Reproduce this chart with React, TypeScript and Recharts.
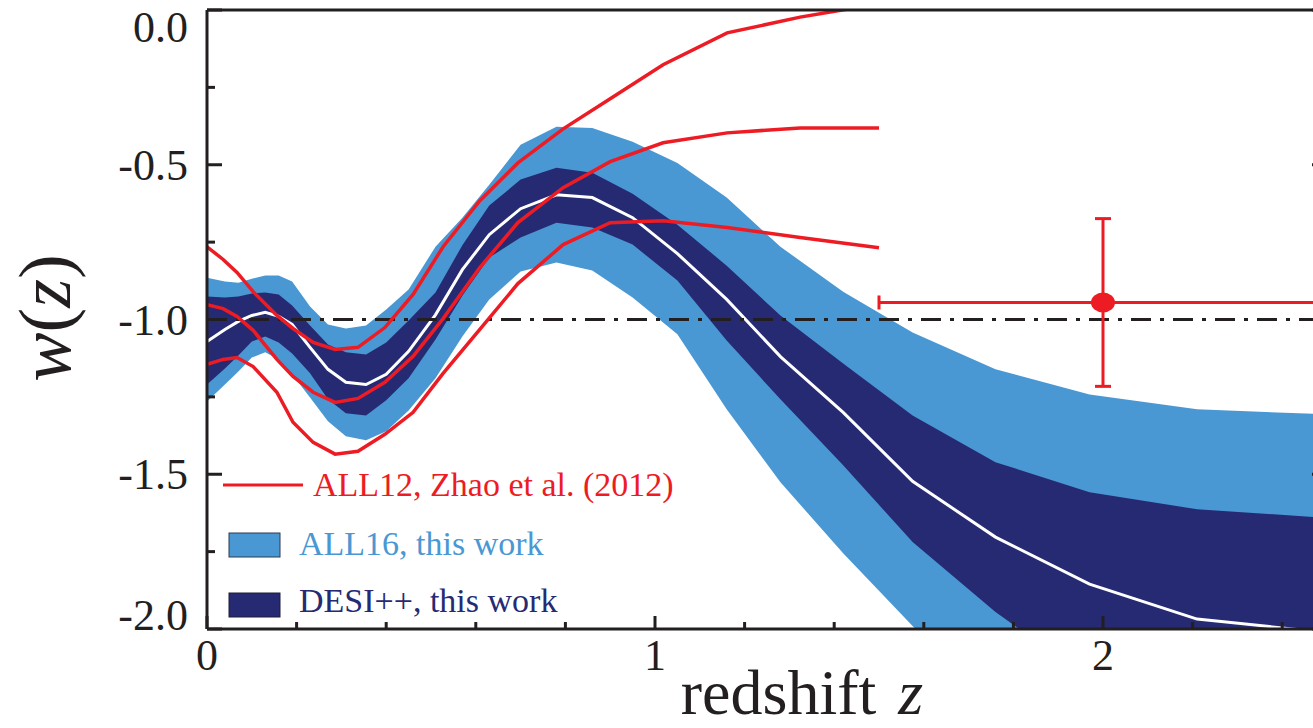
import {
  ComposedChart,
  Area,
  Line,
  Scatter,
  ErrorBar,
  XAxis,
  YAxis,
  ReferenceLine,
  Legend,
} from "recharts";

// redshift nodes shared by the ALL16 / DESI++ reconstructions
const Z_NODES = [
  0, 0.04, 0.07, 0.1, 0.13, 0.16, 0.19, 0.23, 0.27, 0.31, 0.355, 0.4, 0.45, 0.51, 0.57,
  0.63, 0.7, 0.78, 0.86, 0.95, 1.05, 1.16, 1.28, 1.42, 1.575, 1.76, 1.97, 2.21, 2.49,
];
const ALL16_HIGH = [
  -0.865, -0.877, -0.881, -0.868, -0.858, -0.858, -0.877, -0.958, -1.016, -1.029, -1.019,
  -0.968, -0.903, -0.765, -0.671, -0.565, -0.435, -0.377, -0.381, -0.426, -0.494, -0.606,
  -0.765, -0.91, -1.042, -1.161, -1.242, -1.29, -1.306,
];
const ALL16_LOW = [
  -1.265, -1.21, -1.168, -1.123, -1.106, -1.129, -1.177, -1.252, -1.329, -1.377, -1.39,
  -1.361, -1.294, -1.19, -1.055, -0.935, -0.845, -0.816, -0.842, -0.929, -1.048, -1.29,
  -1.526, -1.755, -1.99, -2.26, -2.52, -2.8, -3.0,
];
const DESI_HIGH = [
  -0.926, -0.929, -0.926, -0.916, -0.913, -0.919, -0.955, -1.019, -1.081, -1.106, -1.113,
  -1.074, -1.003, -0.913, -0.76, -0.632, -0.548, -0.51, -0.526, -0.594, -0.694, -0.826,
  -0.987, -1.142, -1.31, -1.461, -1.558, -1.613, -1.64,
];
const DESI_LOW = [
  -1.21, -1.158, -1.116, -1.071, -1.055, -1.074, -1.11, -1.174, -1.258, -1.303, -1.31,
  -1.261, -1.19, -1.065, -0.923, -0.8, -0.735, -0.687, -0.703, -0.758, -0.874, -1.068,
  -1.258, -1.471, -1.719, -1.945, -2.16, -2.35, -2.5,
];
const DESI_MEAN = [
  -1.071, -1.032, -1.006, -0.987, -0.977, -0.99, -1.016, -1.09, -1.161, -1.203, -1.21,
  -1.177, -1.103, -0.985, -0.839, -0.726, -0.642, -0.597, -0.606, -0.671, -0.787, -0.935,
  -1.12, -1.3, -1.523, -1.703, -1.855, -1.968, -2.01,
];

// ALL12, Zhao et al. (2012)
const Z_ALL12 = [
  0, 0.036, 0.067, 0.103, 0.156, 0.192, 0.237, 0.286, 0.337, 0.397, 0.46, 0.527, 0.609,
  0.694, 0.795, 0.9, 1.018, 1.161, 1.324, 1.5,
];
const ALL12_UPPER = [
  -0.765, -0.806, -0.848, -0.91, -0.987, -1.029, -1.074, -1.097, -1.09, -1.026, -0.919,
  -0.765, -0.616, -0.494, -0.384, -0.287, -0.177, -0.074, -0.023, 0.02,
];
const ALL12_MEAN = [
  -0.952, -0.965, -0.99, -1.035, -1.129, -1.184, -1.235, -1.268, -1.255, -1.203, -1.119,
  -0.997, -0.832, -0.687, -0.574, -0.49, -0.429, -0.397, -0.381, -0.381,
];
const ALL12_LOWER = [
  -1.145, -1.129, -1.123, -1.152, -1.235, -1.332, -1.397, -1.435, -1.426, -1.371, -1.3,
  -1.174, -1.032, -0.884, -0.758, -0.687, -0.681, -0.703, -0.735, -0.768,
];

// high-z bin point with errors
const BIN_Z = [2.0];
const BIN_W = [-0.945];
const BIN_ZERR = [[0.5, 0.6]];
const BIN_WERR = [0.271];

const X_TICKS = [0, 0.2, 0.4, 0.6, 0.8, 1, 1.2, 1.4, 1.6, 1.8, 2, 2.2, 2.4];
const Y_TICKS = [0, -0.25, -0.5, -0.75, -1, -1.25, -1.5, -1.75, -2];

const INK = "#231f20";
const LIGHT = "#4a98d3";
const NAVY = "#262a73";
const RED = "#ed1c24";
const FONT = "'Liberation Serif', 'Times New Roman', serif";

const bands = Z_NODES.map((z, i) => ({
  z,
  all16: [ALL16_LOW[i], ALL16_HIGH[i]],
  desi: [DESI_LOW[i], DESI_HIGH[i]],
  mean: DESI_MEAN[i],
}));
const toSeries = (ws: number[]) => Z_ALL12.map((z, i) => ({ z, w: ws[i] }));
const binPoint = BIN_Z.map((z, i) => ({ z, w: BIN_W[i], ex: BIN_ZERR[i], ey: BIN_WERR[i] }));

const isMajorX = (v: number) => Math.abs(v - Math.round(v)) < 1e-6;
const isMajorY = (v: number) => Math.abs(v * 2 - Math.round(v * 2)) < 1e-6;

function BottomTick({ x, y, payload }: any) {
  const v = payload.value;
  const major = isMajorX(v);
  return (
    <g>
      <line x1={x} x2={x} y1={y} y2={y - (major ? 13 : 7)} stroke={INK} strokeWidth={3} />
      {major && (
        <text x={x} y={y + 41} textAnchor="middle" fontSize={44} fontFamily={FONT} fill={INK}>
          {Math.round(v)}
        </text>
      )}
    </g>
  );
}

function TopTick({ x, y, payload }: any) {
  const major = isMajorX(payload.value);
  return <line x1={x} x2={x} y1={y} y2={y + (major ? 13 : 7)} stroke={INK} strokeWidth={3} />;
}

function LeftTick({ x, y, payload }: any) {
  const v = payload.value;
  const major = isMajorY(v);
  let base = y + 15;
  if (v === 0) base = y + 32;
  if (v === -2) base = y + 1;
  return (
    <g>
      <line x1={x} x2={x + (major ? 15 : 8)} y1={y} y2={y} stroke={INK} strokeWidth={3} />
      {major && (
        <text x={x - 19} y={base} textAnchor="end" fontSize={44} fontFamily={FONT} fill={INK}>
          {v === 0 ? "0.0" : v.toFixed(1)}
        </text>
      )}
    </g>
  );
}

function RightTick({ x, y, payload }: any) {
  const major = isMajorY(payload.value);
  return <line x1={x} x2={x - (major ? 15 : 8)} y1={y} y2={y} stroke={INK} strokeWidth={3} />;
}

function LegendBox() {
  return (
    <svg width={480} height={170} style={{ display: "block" }}>
      <line x1={8} x2={88} y1={25} y2={25} stroke={RED} strokeWidth={3} />
      <text x={98} y={36} fontSize={34} fontFamily={FONT} fill={RED}>
        ALL12, Zhao et al. (2012)
      </text>
      <rect x={14} y={73} width={51} height={24} fill={LIGHT} stroke="#2a3a55" strokeWidth={1} />
      <text x={84} y={95} fontSize={34} fontFamily={FONT} fill={LIGHT}>
        ALL16, this work
      </text>
      <rect x={14} y={133} width={51} height={24} fill={NAVY} stroke="#1c1c3a" strokeWidth={1} />
      <text x={84} y={152} fontSize={34} fontFamily={FONT} fill={NAVY}>
        DESI++, this work
      </text>
    </svg>
  );
}

export default function App() {
  return (
    <div
      style={{
        position: "fixed",
        left: 0,
        top: 0,
        width: 1313,
        height: 728,
        overflow: "hidden",
        background: "#fff",
      }}
    >
      <ComposedChart width={1340} height={728} margin={{ top: 0, right: 0, bottom: 0, left: 0 }}>
        <XAxis
          dataKey="z"
          type="number"
          domain={[0, 2.5]}
          allowDataOverflow
          ticks={X_TICKS}
          interval={0}
          height={99}
          tickSize={0}
          tickMargin={0}
          tickLine={false}
          axisLine={{ stroke: INK, strokeWidth: 3 }}
          tick={<BottomTick />}
          label={{
            position: "insideBottom",
            content: () => (
              <text x={802} y={714} textAnchor="middle" fontSize={64} fontFamily={FONT} fill={INK}>
                redshift
                <tspan dx={22} fontStyle="italic">z</tspan>
              </text>
            ),
          }}
        />
        <XAxis
          xAxisId="top"
          orientation="top"
          type="number"
          domain={[0, 2.5]}
          allowDataOverflow
          ticks={X_TICKS}
          interval={0}
          height={10}
          tickSize={0}
          tickMargin={0}
          tickLine={false}
          axisLine={{ stroke: INK, strokeWidth: 3 }}
          tick={<TopTick />}
        />
        <YAxis
          type="number"
          domain={[-2, 0]}
          allowDataOverflow
          ticks={Y_TICKS}
          interval={0}
          width={207}
          tickSize={0}
          tickMargin={0}
          tickLine={false}
          axisLine={{ stroke: INK, strokeWidth: 3 }}
          tick={<LeftTick />}
          label={{
            position: "insideLeft",
            content: () => (
              <text
                x={70}
                y={318}
                transform="rotate(-90, 70, 318)"
                textAnchor="middle"
                fontSize={74}
                fontFamily={FONT}
                fill={INK}
              >
                <tspan fontStyle="italic">w</tspan>(<tspan fontStyle="italic">z</tspan>)
              </text>
            ),
          }}
        />
        <YAxis
          yAxisId="right"
          orientation="right"
          type="number"
          domain={[-2, 0]}
          allowDataOverflow
          ticks={Y_TICKS}
          interval={0}
          width={13}
          tickSize={0}
          tickMargin={0}
          tickLine={false}
          axisLine={{ stroke: INK, strokeWidth: 3 }}
          tick={<RightTick />}
        />
        <Area
          data={bands}
          dataKey="all16"
          stroke="none"
          fill={LIGHT}
          fillOpacity={1}
          isAnimationActive={false}
        />
        <Area
          data={bands}
          dataKey="desi"
          stroke="none"
          fill={NAVY}
          fillOpacity={1}
          isAnimationActive={false}
        />
        <Line
          data={bands}
          dataKey="mean"
          stroke="#ffffff"
          strokeWidth={3}
          dot={false}
          isAnimationActive={false}
        />
        <ReferenceLine y={-1} stroke={INK} strokeWidth={3} strokeDasharray="20 9 4 9" />
        <Line
          data={toSeries(ALL12_UPPER)}
          dataKey="w"
          stroke={RED}
          strokeWidth={3.5}
          dot={false}
          isAnimationActive={false}
        />
        <Line
          data={toSeries(ALL12_MEAN)}
          dataKey="w"
          stroke={RED}
          strokeWidth={3.5}
          dot={false}
          isAnimationActive={false}
        />
        <Line
          data={toSeries(ALL12_LOWER)}
          dataKey="w"
          stroke={RED}
          strokeWidth={3.5}
          dot={false}
          isAnimationActive={false}
        />
        <Scatter
          data={binPoint}
          dataKey="w"
          fill={RED}
          isAnimationActive={false}
          shape={(p: any) => <ellipse cx={p.cx} cy={p.cy} rx={12} ry={10} fill={RED} />}
        >
          <ErrorBar dataKey="ex" direction="x" width={7} stroke={RED} strokeWidth={3} />
          <ErrorBar dataKey="ey" direction="y" width={8} stroke={RED} strokeWidth={3} />
        </Scatter>
        <Legend
          layout="vertical"
          align="center"
          verticalAlign="middle"
          content={() => <LegendBox />}
          wrapperStyle={{ left: 215, top: 460, width: 480, height: 170 }}
        />
      </ComposedChart>
    </div>
  );
}
